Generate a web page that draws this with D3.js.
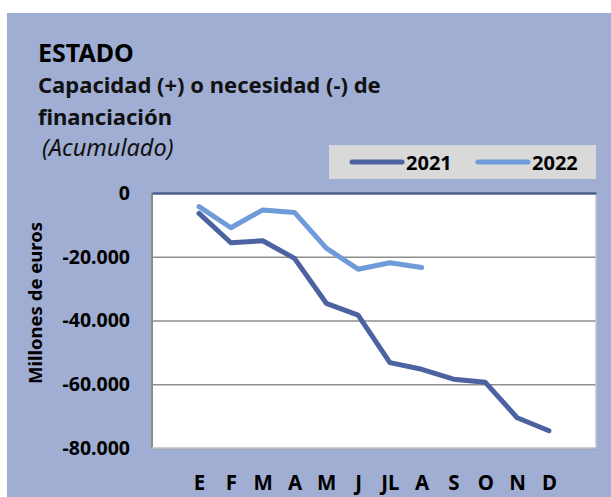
<!DOCTYPE html>
<html>
<head>
<meta charset="utf-8">
<script src="https://cdn.jsdelivr.net/npm/d3@7"></script>
<style>
  html, body { margin: 0; padding: 0; background: #ffffff; }
  svg { display: block; }
</style>
</head>
<body>
<svg id="chart" width="611" height="497"></svg>
<script>
// ---- Data ----
const months = ["E", "F", "M", "A", "M", "J", "JL", "A", "S", "O", "N", "D"];
const values2021 = [-6400, -15600, -15000, -20500, -34600, -38300, -53200, -55300, -58400, -59400, -70500, -74600];
const values2022 = [-4300, -10900, -5300, -6100, -17300, -23900, -21900, -23400];
const yTicks = [0, -20000, -40000, -60000, -80000];
const seriesNames = ["2021", "2022"];
const titleLines = ["ESTADO", "Capacidad (+) o necesidad (-) de", "financiación"];
const subtitle = "(Acumulado)";
const yAxisTitle = "Millones de euros";

// ---- Setup ----
const svg = d3.select("#chart");
const FONT = "'Noto Sans', 'Open Sans', sans-serif";
const colors = { bg: "#a0aed3", dark: "#4d62a0", light: "#6e9cd9", grid: "#8e8e8e", legendBg: "#d9d9d9" };

const plot = { left: 152, right: 596, top: 193, bottom: 448 };

svg.append("rect").attr("x", 7).attr("y", 13).attr("width", 604).attr("height", 484).attr("fill", colors.bg);

// Titles
svg.append("text").attr("x", 38).attr("y", 62).attr("font-family", FONT).attr("font-weight", 700)
  .attr("font-size", 25).attr("fill", "#000").text(titleLines[0]);
svg.append("text").attr("x", 38).attr("y", 93).attr("font-family", FONT).attr("font-weight", 700)
  .attr("font-size", 22).attr("fill", "#111").text(titleLines[1]);
svg.append("text").attr("x", 38).attr("y", 125).attr("font-family", FONT).attr("font-weight", 700)
  .attr("font-size", 22).attr("fill", "#111").text(titleLines[2]);
svg.append("text").attr("x", 42).attr("y", 156).attr("font-family", FONT).attr("font-style", "italic")
  .attr("font-size", 23.5).attr("fill", "#111").text(subtitle);

// Scales
const x = d3.scalePoint().domain(d3.range(months.length)).range([plot.left, plot.right]).padding(1.48);
const y = d3.scaleLinear().domain([-80000, 0]).range([plot.bottom, plot.top]);

const esLocale = d3.formatLocale({ decimal: ",", thousands: ".", grouping: [3], currency: ["", " €"], minus: "-" });
const fmt = esLocale.format(",");

// Plot area
svg.append("rect").attr("x", plot.left).attr("y", plot.top)
  .attr("width", plot.right - plot.left).attr("height", plot.bottom - plot.top)
  .attr("fill", "#ffffff");

// Gridlines
const grid = svg.append("g").attr("transform", `translate(${plot.left},0)`)
  .call(d3.axisLeft(y).tickValues(yTicks.filter(v => v !== 0)).tickSize(-(plot.right - plot.left)).tickFormat(""));
grid.select(".domain").remove();
grid.selectAll("line").attr("stroke", colors.grid).attr("stroke-width", 1.5);

// Plot border (left, right, bottom)
svg.append("line").attr("x1", plot.left).attr("x2", plot.left).attr("y1", plot.top).attr("y2", plot.bottom)
  .attr("stroke", "#8a8a8a").attr("stroke-width", 2);
svg.append("line").attr("x1", plot.right).attr("x2", plot.right).attr("y1", plot.top).attr("y2", plot.bottom)
  .attr("stroke", "#c8c8c8").attr("stroke-width", 1.5);
svg.append("line").attr("x1", plot.left).attr("x2", plot.right).attr("y1", plot.bottom).attr("y2", plot.bottom)
  .attr("stroke", "#c8c8c8").attr("stroke-width", 1.5);

// Y axis labels
const yAxis = svg.append("g").attr("transform", `translate(${plot.left},0)`)
  .call(d3.axisLeft(y).tickValues(yTicks).tickSize(0).tickPadding(22).tickFormat(fmt));
yAxis.select(".domain").remove();
yAxis.selectAll("text").attr("font-family", FONT).attr("font-weight", 700).attr("font-size", 19.5).attr("fill", "#000");

// Category axis at zero
const xAxis = svg.append("g").attr("transform", `translate(0,${y(0)})`)
  .call(d3.axisBottom(x).tickSize(0).tickFormat(i => months[i]));
xAxis.select(".domain").attr("stroke", "#4e5e8e").attr("stroke-width", 2.5);
xAxis.selectAll("text").attr("y", plot.bottom - y(0) + 42).attr("dy", 0)
  .attr("font-family", FONT).attr("font-weight", 700).attr("font-size", 20.5).attr("fill", "#000");

// Y axis title
svg.append("text").attr("transform", `translate(42,303) rotate(-90)`)
  .attr("text-anchor", "middle").attr("font-family", FONT).attr("font-weight", 700)
  .attr("font-size", 18.5).attr("fill", "#000").text(yAxisTitle);

// Lines
const line = d3.line().x((d, i) => x(i)).y(d => y(d));
svg.append("path").datum(values2021).attr("d", line).attr("fill", "none")
  .attr("stroke", colors.dark).attr("stroke-width", 5).attr("stroke-linejoin", "round").attr("stroke-linecap", "round");
svg.append("path").datum(values2022).attr("d", line).attr("fill", "none")
  .attr("stroke", colors.light).attr("stroke-width", 5).attr("stroke-linejoin", "round").attr("stroke-linecap", "round");

// Legend
const lg = svg.append("g");
lg.append("rect").attr("x", 329).attr("y", 145).attr("width", 267).attr("height", 34).attr("fill", colors.legendBg);
const legendItems = [
  { name: seriesNames[0], color: colors.dark, x0: 352 },
  { name: seriesNames[1], color: colors.light, x0: 478 }
];
legendItems.forEach(it => {
  lg.append("line").attr("x1", it.x0).attr("x2", it.x0 + 50).attr("y1", 162).attr("y2", 162)
    .attr("stroke", it.color).attr("stroke-width", 5).attr("stroke-linecap", "round");
  lg.append("text").attr("x", it.x0 + 54).attr("y", 169.5).attr("font-family", FONT).attr("font-weight", 700)
    .attr("font-size", 20).attr("fill", "#000").text(it.name);
});
</script>
</body>
</html>
